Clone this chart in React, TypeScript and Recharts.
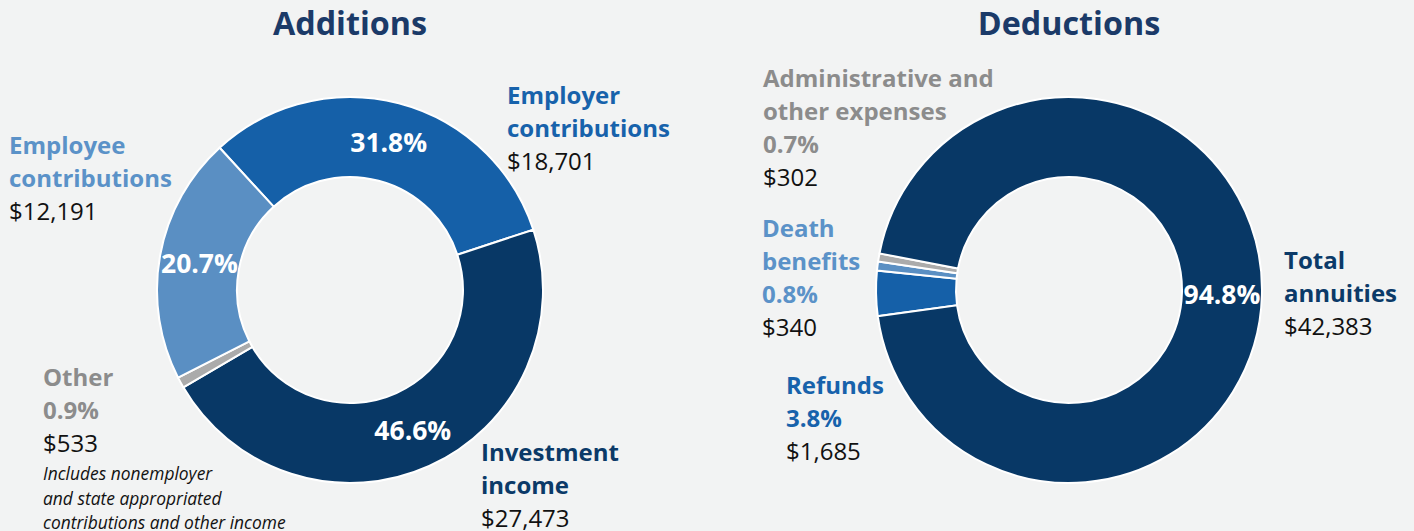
import React from 'react';
import { PieChart, Pie, Cell } from 'recharts';

const additionsNames = ['Employer contributions', 'Investment income', 'Other', 'Employee contributions'];
const additionsValues = [18701, 27473, 533, 12191];
const additionsPct = ['31.8%', '46.6%', '0.9%', '20.7%'];

const deductionsNames = ['Refunds', 'Death benefits', 'Administrative and other expenses', 'Total annuities'];
const deductionsValues = [1685, 340, 302, 42383];
const deductionsPct = ['3.8%', '0.8%', '0.7%', '94.8%'];

const NAVY = '#083866';
const MID = '#1560a8';
const LIGHT = '#5a8fc3';
const GRAY = '#ababab';

const additionsColors = [MID, NAVY, GRAY, LIGHT];
const deductionsColors = [MID, LIGHT, GRAY, NAVY];

const additionsData = additionsNames.map((name, i) => ({ name, value: additionsValues[i], pct: additionsPct[i] }));
const deductionsData = deductionsNames.map((name, i) => ({ name, value: deductionsValues[i], pct: deductionsPct[i] }));

const RADIAN = Math.PI / 180;
const FONT = '"Open Sans", "Noto Sans", sans-serif';

// percent inside the ring, only for the big slices
const renderInside = (props: any) => {
  const { cx, cy, midAngle, innerRadius, outerRadius, percent, payload } = props;
  if (percent < 0.05) return null;
  const r = (innerRadius + outerRadius) / 2;
  const x = cx + r * Math.cos(-midAngle * RADIAN);
  const y = cy + r * Math.sin(-midAngle * RADIAN);
  return (
    <text x={x} y={y} fill="#fff" textAnchor="middle" dominantBaseline="central"
      style={{ fontFamily: FONT, fontWeight: 700, fontSize: 26.5 }}>
      {payload.pct}
    </text>
  );
};

const fmt = (v: number) => '$' + v.toLocaleString('en-US');

const Label = ({ x, y, lines, color, value, note }: { x: number; y: number; lines: string[]; color: string; value: number; note?: string[] }) => (
  <div style={{ position: 'absolute', left: x, top: y, fontFamily: FONT, fontSize: 24, lineHeight: '33px', whiteSpace: 'nowrap' }}>
    {lines.map((l, i) => (
      <div key={i} style={{ color, fontWeight: 700 }}>{l}</div>
    ))}
    <div style={{ color: '#111' }}>{fmt(value)}</div>
    {note && (
      <div style={{ fontStyle: 'italic', fontSize: 17.4, lineHeight: '24.5px', color: '#111', marginTop: 2 }}>
        {note.map((n, i) => <div key={i}>{n}</div>)}
      </div>
    )}
  </div>
);

const titleStyle: React.CSSProperties = {
  position: 'absolute', top: 0, width: 400, textAlign: 'center', fontFamily: FONT,
  fontWeight: 700, fontSize: 32.3, color: '#1b3a68', lineHeight: '44px',
};

export default function App() {
  return (
    <div style={{ position: 'relative', width: 1414, height: 531, background: '#f2f3f3', overflow: 'hidden' }}>
      <style>{'body{margin:0}'}</style>
      <PieChart width={1414} height={531} margin={{ top: 0, right: 0, bottom: 0, left: 0 }}>
        <Pie data={additionsData} dataKey="value" nameKey="name" cx={350} cy={290}
          innerRadius={113} outerRadius={193} startAngle={132.5} endAngle={-227.5}
          stroke="#fff" strokeWidth={2} label={renderInside} labelLine={false} isAnimationActive={false}>
          {additionsData.map((d, i) => <Cell key={d.name} fill={additionsColors[i]} />)}
        </Pie>
        <Pie data={deductionsData} dataKey="value" nameKey="name" cx={1069} cy={290}
          innerRadius={113} outerRadius={193} startAngle={187.8} endAngle={-172.2}
          stroke="#fff" strokeWidth={2} label={renderInside} labelLine={false} isAnimationActive={false}>
          {deductionsData.map((d, i) => <Cell key={d.name} fill={deductionsColors[i]} />)}
        </Pie>
      </PieChart>

      <div style={{ ...titleStyle, left: 150 }}>Additions</div>
      <div style={{ ...titleStyle, left: 869 }}>Deductions</div>

      <Label x={507} y={78} lines={['Employer', 'contributions']} color="#1762ab" value={additionsValues[0]} />
      <Label x={9} y={128} lines={['Employee', 'contributions']} color="#5b92c8" value={additionsValues[3]} />
      <Label x={43} y={360} lines={['Other', additionsPct[2]]} color="#8c8c8c" value={additionsValues[2]}
        note={['Includes nonemployer', 'and state appropriated', 'contributions and other income']} />
      <Label x={481} y={435} lines={['Investment', 'income']} color="#0b3a68" value={additionsValues[1]} />

      <Label x={763} y={61} lines={['Administrative and', 'other expenses', deductionsPct[2]]} color="#8c8c8c" value={deductionsValues[2]} />
      <Label x={762} y={211} lines={['Death', 'benefits', deductionsPct[1]]} color="#5b92c8" value={deductionsValues[1]} />
      <Label x={786} y={368} lines={['Refunds', deductionsPct[0]]} color="#1762ab" value={deductionsValues[0]} />
      <Label x={1284} y={243} lines={['Total', 'annuities']} color="#0b3a68" value={deductionsValues[3]} />
    </div>
  );
}
